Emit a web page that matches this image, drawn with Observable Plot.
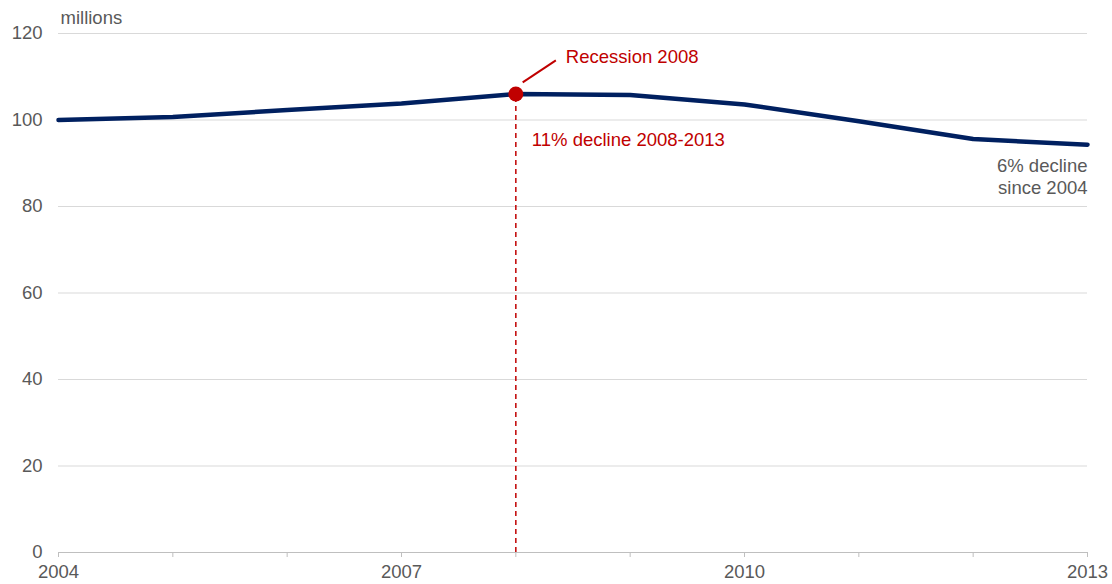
<!DOCTYPE html>
<html>
<head>
<meta charset="utf-8">
<script src="https://cdn.jsdelivr.net/npm/d3@7"></script>
<script src="https://cdn.jsdelivr.net/npm/@observablehq/plot@0.6"></script>
<style>
  html, body { margin: 0; padding: 0; background: #fff; }
  #chart svg { display: block; }
</style>
</head>
<body>
<div id="chart"></div>
<script>
const years = [2004, 2005, 2006, 2007, 2008, 2009, 2010, 2011, 2012, 2013];
const values = [100.0, 100.7, 102.3, 103.8, 106.0, 105.8, 103.6, 99.7, 95.6, 94.3];
const yTicks = [0, 20, 40, 60, 80, 100, 120];
const gridTicks = [20, 40, 60, 80, 100, 120];
const xLabelYears = [2004, 2007, 2010, 2013];
const recessionYear = 2008;
const recessionValue = 106.0;
const recessionLabel = "Recession 2008";
const declineLabel = "11% decline 2008-2013";
const endLabel = "6% decline\nsince 2004";
const unitLabel = "millions";
const leader = [{x1: 2008.06, y1: 108.7, x2: 2008.35, y2: 113.8}];

const data = years.map((y, i) => ({year: y, value: values[i]}));
const gray = "#595959";
const red = "#c00000";
const navy = "#002060";
const fs = 18.5;

const chart = Plot.plot({
  width: 1112,
  height: 584,
  marginLeft: 58,
  marginRight: 25,
  marginTop: 33,
  marginBottom: 32,
  style: {fontFamily: "'Liberation Sans', Arial, sans-serif", fontSize: fs + "px", color: gray, background: "#fff"},
  x: {domain: [2004, 2013]},
  y: {domain: [0, 120]},
  marks: [
    Plot.ruleY(gridTicks, {stroke: "#d9d9d9", strokeWidth: 1}),
    Plot.ruleY([0], {stroke: "#bfbfbf", strokeWidth: 1.2}),
    Plot.axisY({ticks: yTicks, tickSize: 0, tickPadding: 16, label: null, fill: gray, fontSize: fs}),
    Plot.axisX({ticks: years, tickSize: 5, tickPadding: 7, stroke: "#bfbfbf", label: null, fill: gray, fontSize: fs,
      tickFormat: d => xLabelYears.includes(d) ? String(d) : ""}),
    Plot.ruleX([recessionYear], {y1: 0, y2: recessionValue, stroke: red, strokeWidth: 1.5, strokeDasharray: "5,4"}),
    Plot.line(data, {x: "year", y: "value", stroke: navy, strokeWidth: 4.5, strokeLinecap: "round", strokeLinejoin: "round"}),
    Plot.dot([{x: recessionYear, y: recessionValue}], {x: "x", y: "y", r: 7.5, fill: red, stroke: "none"}),
    Plot.link(leader, {x1: "x1", y1: "y1", x2: "x2", y2: "y2", stroke: red, strokeWidth: 2}),
    Plot.text([{x: recessionYear, y: recessionValue}], {x: "x", y: "y", text: () => recessionLabel, dx: 50, dy: -37, textAnchor: "start", fill: red, fontSize: fs}),
    Plot.text([{x: recessionYear, y: recessionValue}], {x: "x", y: "y", text: () => declineLabel, dx: 16, dy: 46, textAnchor: "start", fill: red, fontSize: fs}),
    Plot.text([data[data.length - 1]], {x: "year", y: "value", text: () => endLabel, textAnchor: "end", lineAnchor: "top", dy: 12, lineHeight: 1.19, fill: gray, fontSize: fs}),
    Plot.text([unitLabel], {frameAnchor: "top-left", dx: 2, dy: -15, textAnchor: "start", lineAnchor: "middle", fill: gray, fontSize: fs})
  ]
});
document.getElementById("chart").appendChild(chart);
</script>
</body>
</html>
